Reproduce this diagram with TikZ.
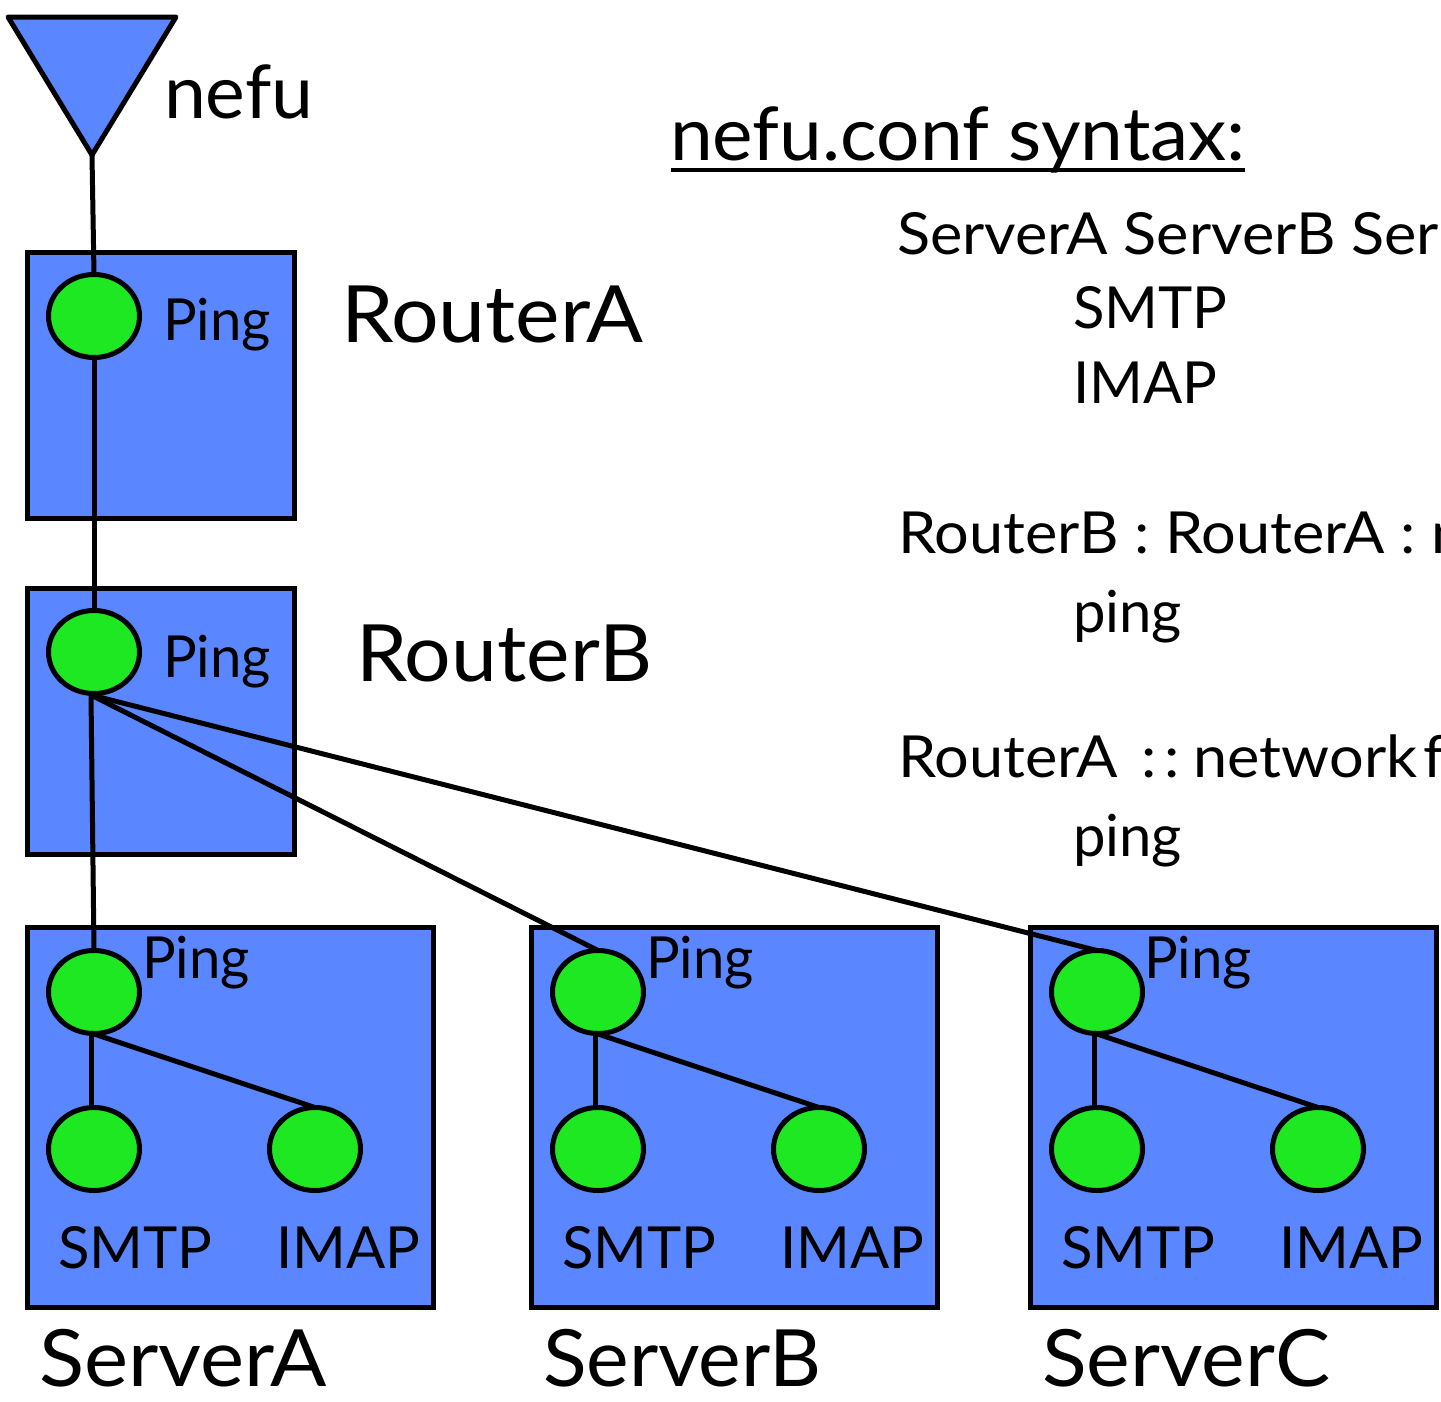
\documentclass[tikz,border=0pt]{standalone}
\usepackage{fontspec}
\setmainfont{Lato}
\definecolor{boxblue}{RGB}{90,134,255}
\definecolor{dotgreen}{RGB}{30,232,34}
\usetikzlibrary{shapes.geometric}
\tikzset{
  x=1pt,y=-1pt,
  every node/.style={inner sep=0pt,outer sep=0pt,anchor=base west,text=black},
  hostbox/.style={draw=black,line width=5pt,fill=boxblue},
  dot/.style={draw=black,line width=5pt,fill=dotgreen,ellipse,minimum width=91pt,minimum height=83pt,anchor=center},
  link/.style={draw=black,line width=5pt},
  small/.style={font=\fontsize{58}{58}\selectfont},
  ping/.style={font=\fontsize{58}{58}\selectfont\addfontfeature{FakeStretch=0.97}},
  big/.style={font=\fontsize{79}{79}\selectfont\addfontfeature{FakeStretch=#1}},
  head/.style={font=\fontsize{74}{74}\selectfont\addfontfeature{FakeStretch=#1}},
  conf/.style={font=\fontsize{58}{58}\selectfont\addfontfeature{FakeStretch=1.055}}
}
\begin{document}
\begin{tikzpicture}
\useasboundingbox (0,0) rectangle (1441,1401);
% boxes
\draw[hostbox] (27,252) rectangle (294,518);
\draw[hostbox] (27,588) rectangle (294,854);
\draw[hostbox] (27,927) rectangle (433,1307);
\draw[hostbox] (531,927) rectangle (937,1307);
\draw[hostbox] (1030,927) rectangle (1436,1307);
% antenna
\draw[hostbox,line join=round] (8,17) -- (176,17) -- (92,155) -- cycle;
\coordinate (ant) at (92,155);
% dots
\node[dot] (pa) at (94,316) {};
\node[dot] (pb) at (94,652) {};
\node[dot] (s1) at (94,992) {};
\node[dot] (s1a) at (94,1149) {};
\node[dot] (s1b) at (315,1149) {};
\node[dot] (s2) at (598,992) {};
\node[dot] (s2a) at (598,1149) {};
\node[dot] (s2b) at (819,1149) {};
\node[dot] (s3) at (1097,992) {};
\node[dot] (s3a) at (1097,1149) {};
\node[dot] (s3b) at (1318,1149) {};
% links
\draw[link] (ant) -- (pa.north);
\draw[link] (pa.south) -- (pb.north);
\coordinate (bb) at (91,695);
\draw[link] (bb) -- (s1.north);
\draw[link] (bb) -- (s2.north);
\draw[link] (bb) -- (s3.north);
\coordinate (c1) at (91,1033);
\coordinate (d1) at (91,1108);
\draw[link] (c1) -- (d1);
\draw[link] (c1) -- (s1b.north);
\coordinate (c2) at (595,1033);
\coordinate (d2) at (595,1108);
\draw[link] (c2) -- (d2);
\draw[link] (c2) -- (s2b.north);
\coordinate (c3) at (1094,1033);
\coordinate (d3) at (1094,1108);
\draw[link] (c3) -- (d3);
\draw[link] (c3) -- (s3b.north);
% labels
\node[head=1.015] (tnefu) at (164,118) {nefu};
\node[head=1.036] (ttitle) at (670,160) {nefu.conf syntax:};
\draw[line width=4pt] (671,170) -- (1245,170);
\node[big=1.065] (tra) at (341,342) {RouterA};
\node[big=1.04] (trb) at (356,681) {RouterB};
\node[ping] at (163,340) {Ping};
\node[ping] at (163,677) {Ping};
\node[ping] at (142,978) {Ping};
\node[ping] at (646,978) {Ping};
\node[ping] at (1144,978) {Ping};
\foreach \x in {0,504,1003}{
  \node[small] at (58+\x,1268) {SMTP};
  \node[small] at (276+\x,1268) {IMAP};
}
\node[big=1.055] at (39,1386) {ServerA};
\node[big=1.02] at (543,1386) {ServerB};
\node[big=1.045] at (1042,1386) {ServerC};
\node[conf] at (897,254) {ServerA ServerB Ser};
\node[small] at (1073,328) {SMTP};
\node[small] at (1073,403) {IMAP};
\node[conf] at (898,553) {RouterB : RouterA : n};
\node[small] at (1073,632) {ping};
\node[conf] at (898,777) {\spaceskip=8pt RouterA\hspace{16pt} : : network\hspace{-2pt} f};
\node[small] at (1073,856) {ping};
\end{tikzpicture}
\end{document}
